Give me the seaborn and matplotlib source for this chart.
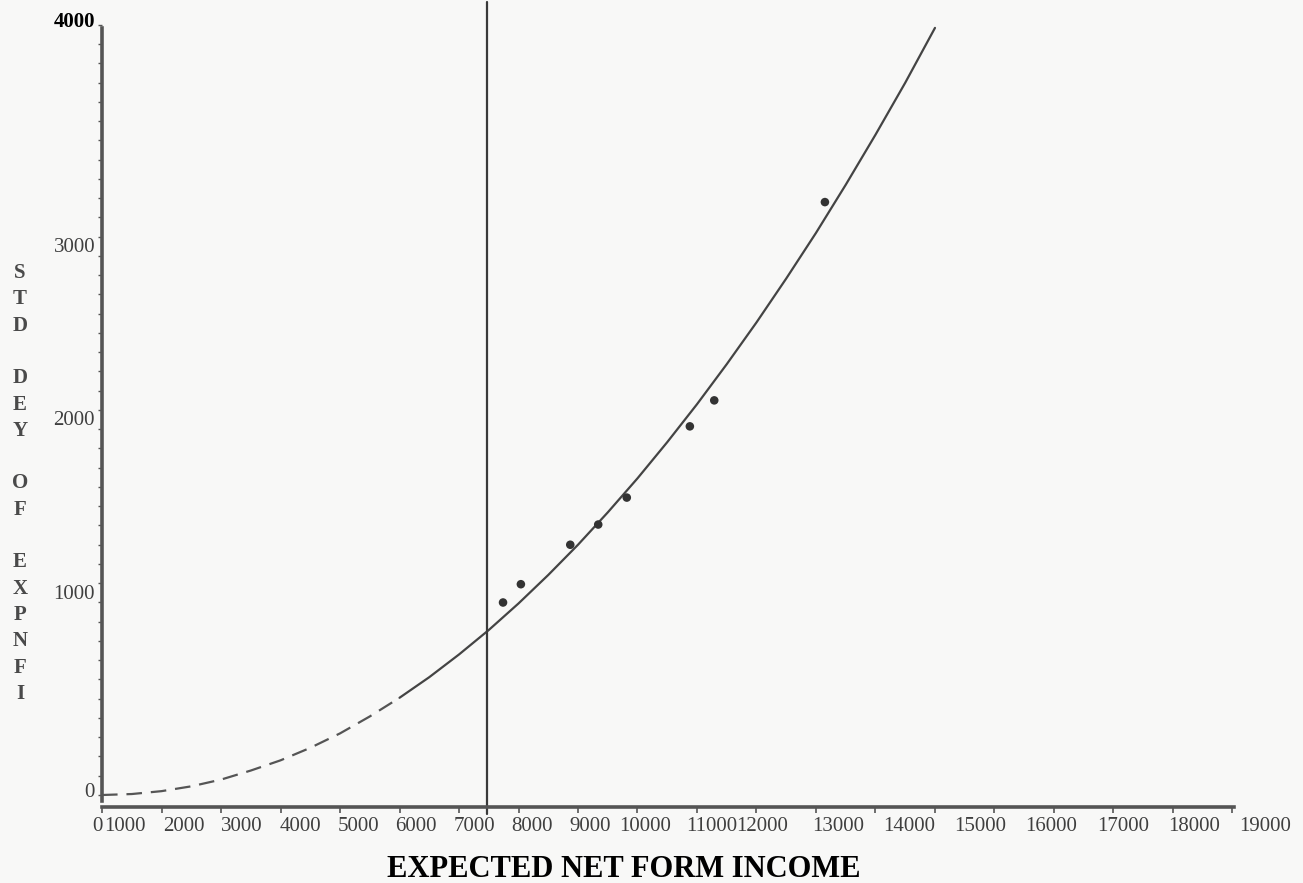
import matplotlib
matplotlib.use("Agg")
import matplotlib.pyplot as plt
import pandas as pd
import seaborn as sns

# observed points: expected net farm income vs std dev
obs_income = [6740, 7040, 7870, 8340, 8820, 9880, 10290, 12150]
obs_std = [1000, 1095, 1300, 1405, 1545, 1915, 2050, 3080]

# fitted curve
curve_income = [0, 500, 1000, 1500, 2000, 2500, 3000, 3500, 4000, 4500,
                5000, 5500, 6000, 6500, 7000, 7500, 8000, 8500, 9000,
                9500, 10000, 10500, 11000, 11500, 12000, 12500, 13000,
                13500, 14000]
curve_std = [0, 5, 20, 45, 80, 127, 180, 245, 320, 408,
             505, 612, 730, 857, 995, 1143, 1300, 1468, 1645,
             1833, 2030, 2238, 2455, 2683, 2920, 3170, 3430,
             3700, 3985]

# vertical reference line
ref_income = 6470

x_tick_values = list(range(0, 20000, 1000))
x_tick_labels = [str(v) for v in x_tick_values]
y_tick_values = [0, 1000, 2000, 3000, 4000]
y_tick_labels = [str(v) for v in y_tick_values]

# where the typed labels sit on the scanned sheet (data units)
x_label_pos = [-84, 387, 1378, 2353, 3328, 4303, 5277, 6252, 7227, 8202,
               9126, 10252, 11092, 12370, 13563, 14756, 15950, 17160, 18353, 19546]
y_label_pos = [26, 1055, 1958, 2857, 4026]

ylabel_letters = "S\nT\nD\n\nD\nE\nY\n\nO\nF\n\nE\nX\nP\nN\nF\nI"

sns.set_style("white")
plt.rcParams["font.family"] = ["Liberation Serif", "DejaVu Serif"]

bg = "#f8f8f7"
fig = plt.figure(figsize=(13.03, 8.83), dpi=100, facecolor=bg)
ax = fig.add_axes([0.0509, 0.07786, 0.9315, 0.92])
ax.set_facecolor(bg)

curve = pd.DataFrame({"income": curve_income, "std": curve_std})
low = curve[curve["income"] <= 5000]
high = curve[curve["income"] >= 5000]
sns.lineplot(data=low, x="income", y="std", ax=ax, color="#555555",
             lw=1.6, linestyle=(0, (7, 4)))
sns.lineplot(data=high, x="income", y="std", ax=ax, color="#444444", lw=1.6)

obs = pd.DataFrame({"income": obs_income, "std": obs_std})
sns.scatterplot(data=obs, x="income", y="std", ax=ax, color="#333333",
                s=38, edgecolor="none", zorder=5)

ax.axvline(ref_income, ymin=0.0, ymax=1.0, color="#3a3a3a", lw=1.6, clip_on=False)

ax.set_xlim(-600, 19800)
ax.set_ylim(-100, 4120)

# axes drawn like the original graph paper
for side in ["top", "right"]:
    ax.spines[side].set_visible(False)
ax.spines["left"].set_position(("data", 0))
ax.spines["bottom"].set_position(("data", -62))
ax.spines["left"].set_bounds(-30, 3985)
ax.spines["bottom"].set_bounds(0, 19030)
for side in ["left", "bottom"]:
    ax.spines[side].set_color("#555555")
    ax.spines[side].set_linewidth(2.6)

ax.set_xticks(x_label_pos)
ax.set_xticklabels(x_tick_labels)
ax.set_xticks(x_tick_values, minor=True)
ax.set_yticks(y_label_pos)
ax.set_yticklabels(y_tick_labels)
ax.set_yticks(list(range(0, 4001, 100)), minor=True)
ax.tick_params(axis="both", which="major", length=0, labelsize=15,
               labelcolor="#3f3f3f")
ax.tick_params(axis="x", which="major", pad=7)
ax.tick_params(axis="y", which="major", pad=5)
ax.tick_params(axis="x", which="minor", length=4, width=1.2,
               color="#555555", direction="out", bottom=True)
ax.tick_params(axis="y", which="minor", length=3, width=1.0,
               color="#555555", direction="out", left=True)
top_label = ax.get_yticklabels()[-1]
top_label.set_fontweight("bold")
top_label.set_color("black")
top_label.set_fontsize(15)

ax.set_xlabel("")
ax.set_ylabel("")
fig.text(0.479, 0.0155, "EXPECTED NET FORM INCOME", ha="center", va="center",
         fontsize=22, fontweight="bold", color="black")
fig.text(0.0153, 0.4525, ylabel_letters, ha="center", va="center",
         fontsize=15, fontweight="bold", color="#4a4a4a", linespacing=1.42)

fig.savefig("out.png", dpi=100, facecolor=fig.get_facecolor())
